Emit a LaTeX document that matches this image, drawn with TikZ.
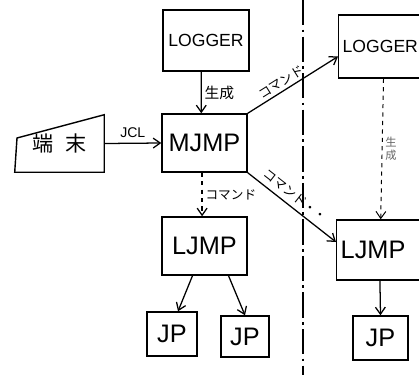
\documentclass[tikz,border=0pt]{standalone}
\usepackage{fontspec}
\setmainfont{Liberation Sans}
\newfontfamily\jpfont{Noto Sans CJK JP}
\usetikzlibrary{arrows.meta,positioning}

\begin{document}
\begin{tikzpicture}[x=0.025cm, y=-0.025cm,
  >={Straight Barb[length=5pt,width=7pt]},
  box/.style={draw, line width=1pt, inner sep=0pt, font=\fontsize{18}{18}\selectfont},
  lbl/.style={font=\jpfont\fontsize{9}{9}\selectfont, inner sep=2pt},
  conn/.style={->, line width=0.9pt},
  sepline/.style={line width=1pt, dash pattern=on 18pt off 3pt on 2pt off 3pt}]
\useasboundingbox (0,0) rectangle (419,375);
\clip (0,0) rectangle (419,375);
% left side
\node[box, minimum width=2.15cm, minimum height=1.525cm, font=\fontsize{12.5}{12.5}\selectfont] (logA) at (206,40.5) {LOGGER};
\node[box, minimum width=2.125cm, minimum height=1.45cm] (mjmp) at (204.5,143) {MJMP};
\node[box, minimum width=2.125cm, minimum height=1.45cm] (ljmp) at (204.5,246) {LJMP};
\node[box, minimum width=1.25cm, minimum height=1.1cm] (jpA) at (172,334) {JP};
\node[box, minimum width=1.2cm, minimum height=1.025cm] (jpB) at (245,336.5) {JP};
% terminal (manual input)
\node[inner sep=0pt, minimum width=2.225cm, minimum height=1.425cm,
  font=\jpfont\fontsize{15}{15}\selectfont] (term) at (59.5,143.5) {\raisebox{-7pt}{端\hspace{8pt}末}};
\draw[line width=1pt] (term.south west) -- (term.south east) -- (term.north east) -- (17,138) -- cycle;
% right side
\node[box, anchor=west, minimum width=2.4cm, minimum height=1.575cm, text width=2.2cm, align=left,
  font=\fontsize{12.5}{12.5}\selectfont] (logB) at (338,46.5) {LOGGER};
\node[box, anchor=west, minimum width=2.4cm, minimum height=1.5cm, text width=2.2cm, align=left] (ljmpB) at (336,250) {LJMP};
\node[box, minimum width=1.375cm, minimum height=1.1cm] (jpC) at (380.5,338) {JP};
% separator
\coordinate (sepT) at (303,0);
\coordinate (sepB) at (303,375);
\draw[sepline] (sepT) -- (sepB);
% connectors
\draw[conn] (term.east) -- node[above, font=\fontsize{10}{10}\selectfont] {JCL} (mjmp.west);
\draw[conn] ([xshift=-0.12cm]logA.south) -- node[right, lbl, font=\jpfont\fontsize{10.5}{10.5}\selectfont] {生成} ([xshift=-0.08cm]mjmp.north);
\draw[conn, dashed] ([xshift=-0.06cm]mjmp.south) -- node[right, lbl] {コマンド} ([xshift=-0.06cm]ljmp.north);
\draw[conn] ([xshift=-0.3cm]ljmp.south) -- ([xshift=0.15cm]jpA.north);
\draw[conn] ([xshift=0.6cm]ljmp.south) -- (jpB.north);
\draw[conn] (mjmp.north east) -- node[pos=0.42, sloped, above, lbl] {コマンド} ([yshift=-0.25cm]logB.west);
\draw[conn] (mjmp.south east) -- node[pos=0.46, sloped, above=2pt, lbl] {コマンド・・} ([yshift=0.2cm]ljmpB.west);
\draw[conn, dashed, line width=0.7pt] ([xshift=-0.08cm]logB.south) -- node[right, lbl, align=center, text=black!60, font=\jpfont\fontsize{8}{9}\selectfont] {生\\成} ([xshift=-0.1cm]ljmpB.north);
\draw[conn] ([xshift=-0.12cm]ljmpB.south) -- (jpC.north);
\end{tikzpicture}
\end{document}
